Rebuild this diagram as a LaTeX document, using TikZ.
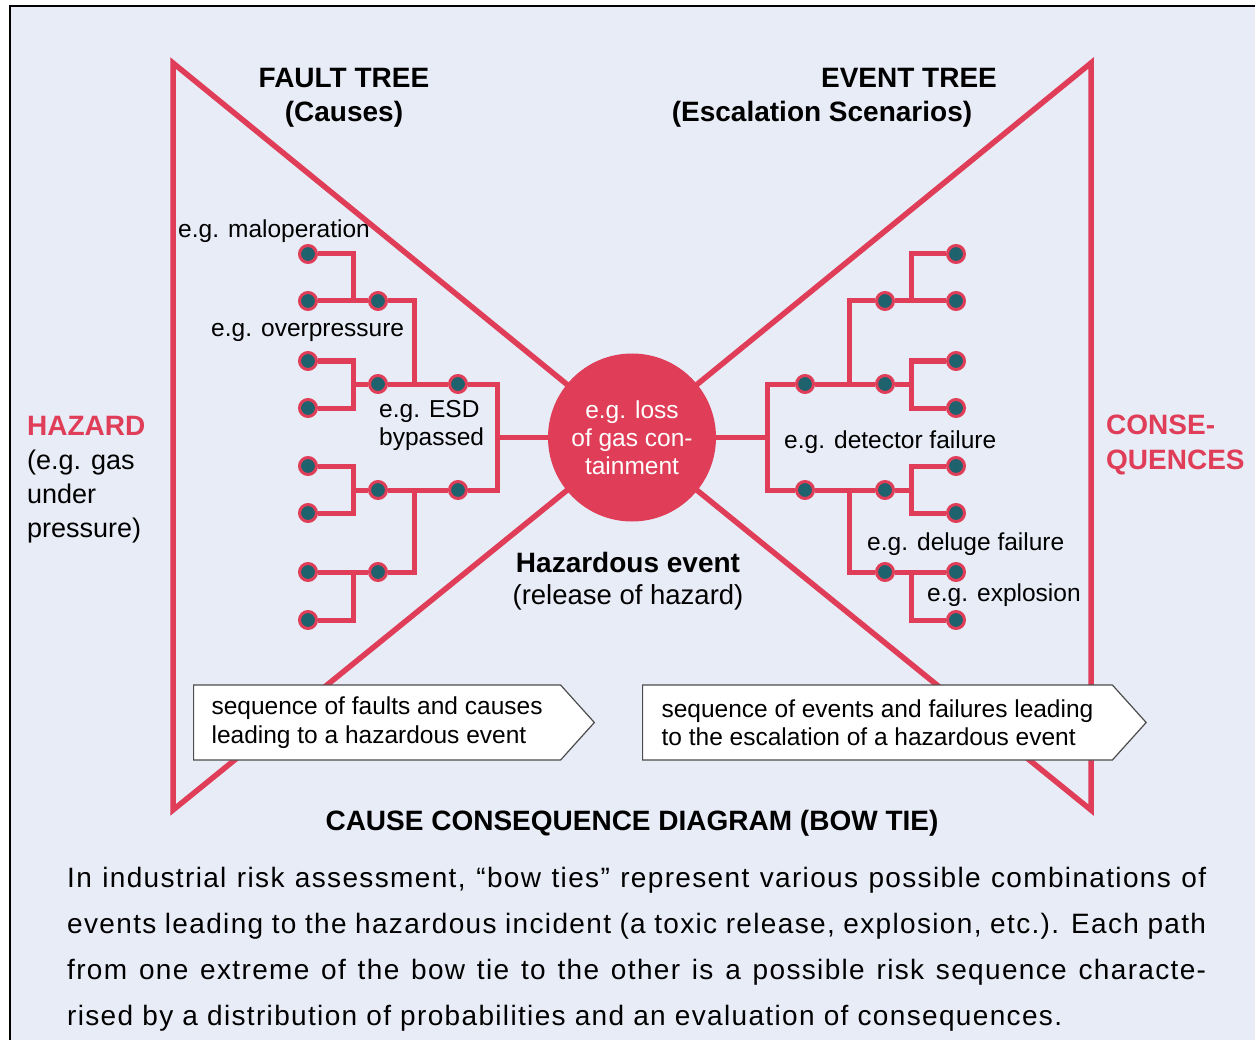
\documentclass[tikz,border=0pt]{standalone}
\usepackage{fontspec}
\setmainfont{Liberation Sans}
\newfontfamily\ParaFont[LetterSpace=4.8]{Liberation Sans}
\usetikzlibrary{shapes.symbols}

\definecolor{TieRed}{RGB}{224,62,88}
\definecolor{DotTeal}{RGB}{30,98,110}
\definecolor{PanelBlue}{RGB}{232,236,247}

\tikzstyle{TieLine}=[TieRed,line width=5.5]
\tikzstyle{TreeLine}=[TieRed,line width=5]
\tikzstyle{TreeDot}=[circle,fill=DotTeal,draw=TieRed,line width=3,
  minimum size=17,inner sep=0]
\tikzstyle{EventCircle}=[circle,fill=TieRed,text=white,minimum size=168,
  inner sep=0,align=center,font=\fontsize{24.5}{28}\selectfont]
\tikzstyle{TreeLabel}=[anchor=base west,inner sep=0,font=\fontsize{24.5}{28}\selectfont]
\tikzstyle{Heading}=[anchor=base,inner sep=0,font=\bfseries\fontsize{28}{34}\selectfont]
\tikzstyle{SideText}=[anchor=base west,inner sep=0,align=left,
  font=\fontsize{27}{34}\selectfont]
\tikzstyle{SeqArrow}=[signal,signal to=east,signal pointer angle=96,draw=black!70,
  line width=1.2,fill=white,minimum height=75,inner ysep=0,align=left,
  font=\fontsize{24.5}{28.5}\selectfont]

\begin{document}
\begin{tikzpicture}[x=1pt, y=-1pt]
		\useasboundingbox (0,0) rectangle (1255,1040);
		
		% Panel
		\fill[PanelBlue] (9.5,6) rectangle (1262,1046);
		\draw[line width=2] (9.5,1046) -- (9.5,6) -- (1262,6);
		
		% Bow tie outline
		\coordinate (TieTL) at (173,63);
		\coordinate (TieBL) at (173,810);
		\coordinate (TieTR) at (1091,63);
		\coordinate (TieBR) at (1091,810);
		\coordinate (TieMid) at (632,437.5);
		\draw[TieLine] (TieTL) -- (TieMid) -- (TieTR) -- (TieBR) -- (TieMid)
		  -- (TieBL) -- cycle;
		
		% Hazardous event
		\draw(TieMid) node[EventCircle] (Event) {e.g. loss\\of gas con-\\tainment};
		
		% Fault tree dots
		\draw(308,254) node[TreeDot] (LeafL1) {};
		\draw(308,301) node[TreeDot] (LeafL2) {};
		\draw(308,361) node[TreeDot] (LeafL3) {};
		\draw(308,408) node[TreeDot] (LeafL4) {};
		\draw(308,466) node[TreeDot] (LeafL5) {};
		\draw(308,513) node[TreeDot] (LeafL6) {};
		\draw(308,572) node[TreeDot] (LeafL7) {};
		\draw(308,620) node[TreeDot] (LeafL8) {};
		\draw(378,301) node[TreeDot] (MidL1) {};
		\draw(378,384) node[TreeDot] (MidL2) {};
		\draw(378,490) node[TreeDot] (MidL3) {};
		\draw(378,572) node[TreeDot] (MidL4) {};
		\draw(458,384) node[TreeDot] (TopL1) {};
		\draw(458,490) node[TreeDot] (TopL2) {};
		% Fault tree joins
		\coordinate (JoinL1) at (353,301);
		\coordinate (JoinL2) at (353,384);
		\coordinate (JoinL3) at (414,384);
		\coordinate (JoinL4) at (353,490);
		\coordinate (JoinL5) at (497,437.5);
		\coordinate (JoinL6) at (353,572);
		\coordinate (JoinL7) at (414,490);
		% Fault tree lines
		\draw[TreeLine] (LeafL1) -| (JoinL1);
		\draw[TreeLine] (LeafL2) -- (MidL1);
		\draw[TreeLine] (MidL1) -| (JoinL3);
		\draw[TreeLine] (LeafL3) -| (JoinL2) |- (LeafL4);
		\draw[TreeLine] (JoinL2) -- (MidL2);
		\draw[TreeLine] (MidL2) -- (TopL1);
		\draw[TreeLine] (LeafL5) -| (JoinL4) |- (LeafL6);
		\draw[TreeLine] (JoinL4) -- (MidL3);
		\draw[TreeLine] (MidL3) -- (TopL2);
		\draw[TreeLine] (LeafL7) -- (MidL4);
		\draw[TreeLine] (JoinL6) |- (LeafL8);
		\draw[TreeLine] (MidL4) -| (JoinL7);
		\draw[TreeLine] (TopL1) -| (JoinL5) |- (TopL2);
		\draw[TreeLine] (JoinL5) -- (Event);
		
		% Event tree dots
		\draw(805,384) node[TreeDot] (FirstR1) {};
		\draw(805,490) node[TreeDot] (FirstR2) {};
		\draw(885,301) node[TreeDot] (MidR1) {};
		\draw(885,384) node[TreeDot] (MidR2) {};
		\draw(885,490) node[TreeDot] (MidR3) {};
		\draw(885,572) node[TreeDot] (MidR4) {};
		\draw(956,254) node[TreeDot] (LeafR1) {};
		\draw(956,301) node[TreeDot] (LeafR2) {};
		\draw(956,361) node[TreeDot] (LeafR3) {};
		\draw(956,408) node[TreeDot] (LeafR4) {};
		\draw(956,466) node[TreeDot] (LeafR5) {};
		\draw(956,513) node[TreeDot] (LeafR6) {};
		\draw(956,572) node[TreeDot] (LeafR7) {};
		\draw(956,620) node[TreeDot] (LeafR8) {};
		% Event tree joins
		\coordinate (JoinR1) at (767,437.5);
		\coordinate (JoinR2) at (849,384);
		\coordinate (JoinR3) at (849,490);
		\coordinate (JoinR4) at (911,301);
		\coordinate (JoinR5) at (911,384);
		\coordinate (JoinR6) at (911,490);
		\coordinate (JoinR7) at (911,572);
		% Event tree lines
		\draw[TreeLine] (Event) -- (JoinR1);
		\draw[TreeLine] (FirstR1) -| (JoinR1) |- (FirstR2);
		\draw[TreeLine] (FirstR1) -- (MidR2);
		\draw[TreeLine] (FirstR2) -- (MidR3);
		\draw[TreeLine] (JoinR2) |- (MidR1);
		\draw[TreeLine] (JoinR3) |- (MidR4);
		\draw[TreeLine] (MidR1) -- (LeafR2);
		\draw[TreeLine] (JoinR4) |- (LeafR1);
		\draw[TreeLine] (MidR2) -- (JoinR5);
		\draw[TreeLine] (LeafR3) -| (JoinR5) |- (LeafR4);
		\draw[TreeLine] (MidR3) -- (JoinR6);
		\draw[TreeLine] (LeafR5) -| (JoinR6) |- (LeafR6);
		\draw[TreeLine] (MidR4) -- (LeafR7);
		\draw[TreeLine] (JoinR7) |- (LeafR8);
		
		% Tree labels
		\draw(178,238) node[TreeLabel] (LabelMalop) {e.g. maloperation};
		\draw(211,337) node[TreeLabel] (LabelOverp) {e.g. overpressure};
		\draw(379,445) node[TreeLabel,align=left] (LabelEsd) {e.g. ESD\\bypassed};
		\draw(784,448) node[TreeLabel] (LabelDetect) {e.g. detector failure};
		\draw(867,550) node[TreeLabel] (LabelDeluge) {e.g. deluge failure};
		\draw(927,601) node[TreeLabel] (LabelExplo) {e.g. explosion};
		
		% Headings
		\draw(344,88) node[Heading] (FaultTitle) {FAULT TREE};
		\draw(344,122) node[Heading] (FaultSub) {(Causes)};
		\draw(909,88) node[Heading] (EventTitle) {EVENT TREE};
		\draw(822,122) node[Heading] (EventSub) {(Escalation Scenarios)};
		\draw(628,572) node[Heading] (EventName) {Hazardous event};
		\draw(628,604) node[Heading,font=\fontsize{27.5}{34}\selectfont] (EventNote)
		  {(release of hazard)};
		\draw(632,830) node[Heading] (DiagTitle) {CAUSE CONSEQUENCE DIAGRAM (BOW TIE)};
		
		% Hazard and consequences
		\draw(27,537) node[SideText] (Hazard)
		  {\textcolor{TieRed}{\bfseries\fontsize{28}{34}\selectfont HAZARD}\\(e.g. gas\\under\\pressure)};
		\draw(1106,469) node[SideText,text=TieRed,font=\bfseries\fontsize{28}{35}\selectfont]
		  (Conseq) {CONSE-\\QUENCES};
		
		% Sequence arrows
		\draw(193,722.5) node[SeqArrow,anchor=west,inner xsep=18]
		  (FaultSeq) {sequence of faults and causes\\leading to a hazardous event};
		\draw(642,722.5) node[SeqArrow,anchor=west,inner xsep=19]
		  (EventSeq) {sequence of events and failures leading\\to the escalation of a hazardous event};
		
		% Caption
		\draw(67,1032) node[anchor=south west,inner sep=0,text width=1139,align=justify,
		  font=\ParaFont\fontsize{28}{46.3}\selectfont] (Caption)
		  {In industrial risk assessment, “bow ties” represent various possible combinations of\linebreak
		   events leading to the hazardous incident (a toxic release, explosion, etc.). Each path\linebreak
		   from one extreme of the bow tie to the other is a possible risk sequence characte-\linebreak
		   rised by a distribution of probabilities and an evaluation of consequences.};
		
	\end{tikzpicture}
\end{document}
